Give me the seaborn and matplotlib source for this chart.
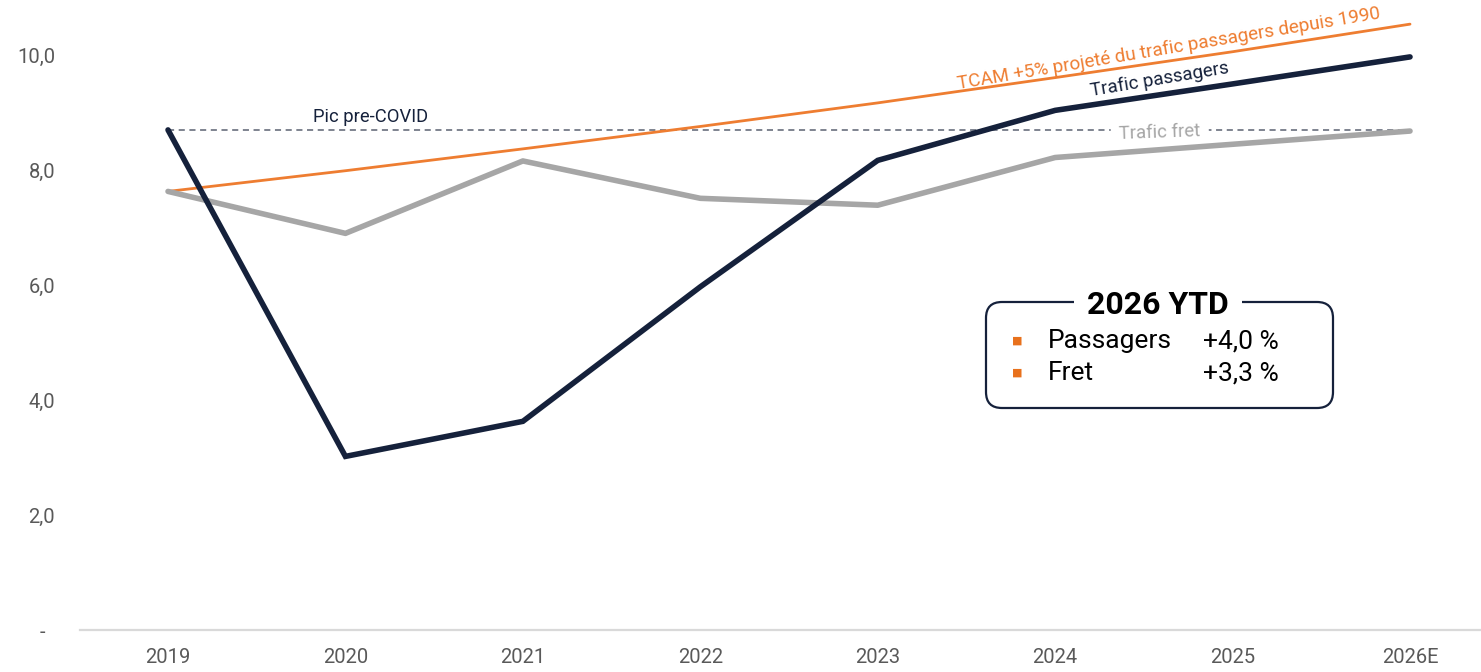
import matplotlib
matplotlib.use("Agg")
import matplotlib.pyplot as plt
import seaborn as sns
import pandas as pd
from matplotlib.patches import FancyBboxPatch

# DATA
years = ["2019", "2020", "2021", "2022", "2023", "2024", "2025", "2026E"]
passagers = [8.70, 3.02, 3.63, 5.97, 8.17, 9.04, 9.50, 9.97]
fret = [7.63, 6.90, 8.16, 7.51, 7.39, 8.22, 8.45, 8.68]
tcam = [7.63, 7.99, 8.37, 8.76, 9.17, 9.61, 10.06, 10.54]
pic_pre_covid = 8.70
y_ticks = [0, 2, 4, 6, 8, 10]
y_tick_labels = ["-  ", "2,0", "4,0", "6,0", "8,0", "10,0"]
ytd_labels = ["Passagers", "Fret"]
ytd_values = ["+4,0 %", "+3,3 %"]

df = pd.DataFrame({"year": years, "passagers": passagers, "fret": fret, "tcam": tcam})

NAVY = "#15213b"
GREY = "#a6a6a6"
ORANGE = "#ee7d31"
DASH = "#5b6272"
TICK = "#595959"

sns.set_style("white")
plt.rcParams["font.family"] = ["Roboto", "DejaVu Sans"]

fig = plt.figure(figsize=(14.81, 6.72), dpi=100)
ax = fig.add_axes([80 / 1481, 42 / 672, 1401 / 1481, 630 / 672])

sns.lineplot(data=df, x="year", y="tcam", ax=ax, color=ORANGE, lw=2.0, sort=False, zorder=2)
sns.lineplot(data=df, x="year", y="fret", ax=ax, color=GREY, lw=4.0, sort=False, zorder=3,
             solid_capstyle="round")
sns.lineplot(data=df, x="year", y="passagers", ax=ax, color=NAVY, lw=4.0, sort=False, zorder=4,
             solid_capstyle="round", solid_joinstyle="miter")

ax.hlines(pic_pre_covid, 0, len(years) - 1, colors=DASH, lw=1.1, linestyles=(0, (4, 3)), zorder=1)

ax.set_xlim(-0.496, 7.40)
ax.set_ylim(0, 10.96)
ax.set_yticks(y_ticks)
ax.set_yticklabels(y_tick_labels)
ax.set_xlabel("")
ax.set_ylabel("")
ax.tick_params(axis="both", length=0, labelsize=14.5, labelcolor=TICK)
ax.tick_params(axis="y", pad=18)
ax.tick_params(axis="x", pad=13)
for s in ["left", "right", "top"]:
    ax.spines[s].set_visible(False)
ax.spines["bottom"].set_color("#d9d9d9")
ax.spines["bottom"].set_linewidth(1.6)

# annotations
ax.text(5.64, 10.12, "TCAM +5% projeté du trafic passagers depuis 1990", color=ORANGE,
        fontsize=13.6, rotation=9.5, ha="center", va="center", rotation_mode="anchor")
ax.text(5.59, 9.57, "Trafic passagers", color=NAVY, fontsize=13.5, rotation=9.5,
        ha="center", va="center", rotation_mode="anchor")
ax.text(5.59, 8.66, "Trafic fret", color=GREY, fontsize=13.3, rotation=2,
        ha="center", va="center", rotation_mode="anchor", zorder=2,
        bbox=dict(boxstyle="square,pad=0.45", fc="white", ec="none"))
ax.text(1.14, 8.92, "Pic pre-COVID", color=NAVY, fontsize=13.2, ha="center", va="center")

# 2026 YTD box (figure inches)
tr = fig.dpi_scale_trans
box = FancyBboxPatch((9.86, 2.64), 3.47, 1.06, boxstyle="round,pad=0,rounding_size=0.16",
                     transform=tr, fc="white", ec=NAVY, lw=1.6, zorder=5)
fig.patches.append(box)
fig.text(11.58, 3.67, "2026 YTD", transform=tr, fontsize=23, fontweight="bold",
         ha="center", va="center", color="black", zorder=6,
         bbox=dict(boxstyle="square,pad=0.4", fc="white", ec="none"))
for i, (lab, val) in enumerate(zip(ytd_labels, ytd_values)):
    yy = 3.31 - i * 0.32
    fig.text(10.17, yy, "■", transform=tr, fontsize=8, color="#e8711c",
             ha="center", va="center", family="DejaVu Sans", zorder=6)
    fig.text(10.48, yy, lab, transform=tr, fontsize=19, ha="left", va="center", color="black", zorder=6)
    fig.text(12.03, yy, val, transform=tr, fontsize=19, ha="left", va="center", color="black", zorder=6)

fig.savefig("out.png", dpi=100)
